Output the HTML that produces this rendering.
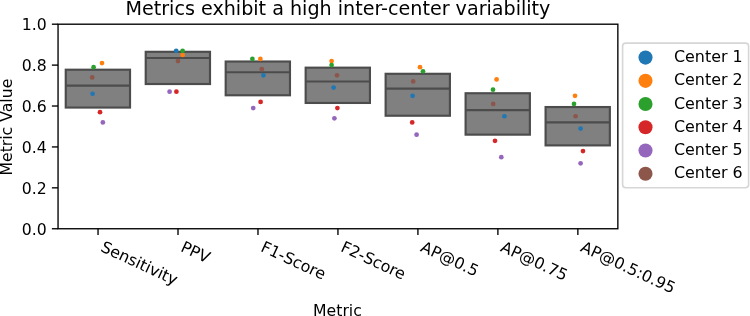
<!DOCTYPE html>
<html lang="en"><head><meta charset="utf-8"><title>Metrics exhibit a high inter-center variability</title>
<style>html,body{margin:0;padding:0;background:#fff}svg{display:block}text{font-family:"DejaVu Sans","Liberation Sans",sans-serif;fill:#000}</style></head><body>
<svg width="750" height="316" viewBox="0 0 750 316">
<rect x="0" y="0" width="750" height="316" fill="#ffffff"/>
<g fill="#808080" stroke="#4c4c4c" stroke-width="2.15" stroke-linejoin="miter">
<rect x="65.75" y="69.71" width="64.28" height="37.84"/>
<rect x="145.72" y="51.81" width="64.28" height="32.22"/>
<rect x="225.69" y="61.53" width="64.28" height="33.75"/>
<rect x="305.66" y="67.67" width="64.28" height="35.28"/>
<rect x="385.63" y="73.80" width="64.28" height="41.93"/>
<rect x="465.60" y="93.24" width="64.28" height="41.42"/>
<rect x="545.58" y="107.04" width="64.28" height="38.35"/>
</g>
<g stroke="#4c4c4c" stroke-width="2.15">
<line x1="65.75" y1="85.56" x2="130.02" y2="85.56"/>
<line x1="145.72" y1="57.95" x2="210.00" y2="57.95"/>
<line x1="225.69" y1="72.27" x2="289.97" y2="72.27"/>
<line x1="305.66" y1="81.47" x2="369.94" y2="81.47"/>
<line x1="385.63" y1="88.63" x2="449.91" y2="88.63"/>
<line x1="465.60" y1="110.11" x2="529.88" y2="110.11"/>
<line x1="545.58" y1="122.38" x2="609.85" y2="122.38"/>
</g>
<g fill="#1f77b4">
<circle cx="92.60" cy="93.75" r="2.37"/>
<circle cx="176.20" cy="50.79" r="2.37"/>
<circle cx="263.40" cy="75.34" r="2.37"/>
<circle cx="333.60" cy="87.61" r="2.37"/>
<circle cx="412.60" cy="95.79" r="2.37"/>
<circle cx="504.40" cy="116.25" r="2.37"/>
<circle cx="580.60" cy="128.52" r="2.37"/>
</g>
<g fill="#ff7f0e">
<circle cx="102.00" cy="63.06" r="2.37"/>
<circle cx="182.60" cy="54.88" r="2.37"/>
<circle cx="260.40" cy="58.97" r="2.37"/>
<circle cx="331.60" cy="61.02" r="2.37"/>
<circle cx="420.00" cy="67.16" r="2.37"/>
<circle cx="496.60" cy="79.43" r="2.37"/>
<circle cx="575.00" cy="95.79" r="2.37"/>
</g>
<g fill="#2ca02c">
<circle cx="93.60" cy="67.16" r="2.37"/>
<circle cx="182.60" cy="50.79" r="2.37"/>
<circle cx="252.40" cy="58.97" r="2.37"/>
<circle cx="331.60" cy="65.11" r="2.37"/>
<circle cx="423.00" cy="71.25" r="2.37"/>
<circle cx="493.00" cy="89.66" r="2.37"/>
<circle cx="574.00" cy="103.97" r="2.37"/>
</g>
<g fill="#d62728">
<circle cx="100.00" cy="112.16" r="2.37"/>
<circle cx="176.40" cy="91.70" r="2.37"/>
<circle cx="260.60" cy="101.93" r="2.37"/>
<circle cx="337.40" cy="108.07" r="2.37"/>
<circle cx="412.20" cy="122.38" r="2.37"/>
<circle cx="495.00" cy="140.79" r="2.37"/>
<circle cx="583.00" cy="151.02" r="2.37"/>
</g>
<g fill="#9467bd">
<circle cx="102.85" cy="122.38" r="2.37"/>
<circle cx="169.60" cy="91.70" r="2.37"/>
<circle cx="253.20" cy="108.07" r="2.37"/>
<circle cx="334.40" cy="118.29" r="2.37"/>
<circle cx="416.60" cy="134.66" r="2.37"/>
<circle cx="501.30" cy="157.16" r="2.37"/>
<circle cx="580.60" cy="163.29" r="2.37"/>
</g>
<g fill="#8c564b">
<circle cx="92.20" cy="77.38" r="2.37"/>
<circle cx="178.00" cy="61.02" r="2.37"/>
<circle cx="261.80" cy="69.20" r="2.37"/>
<circle cx="337.00" cy="75.34" r="2.37"/>
<circle cx="413.20" cy="81.47" r="2.37"/>
<circle cx="493.20" cy="103.97" r="2.37"/>
<circle cx="575.60" cy="116.25" r="2.37"/>
</g>
<rect x="58.05" y="24.20" width="559.80" height="204.55" fill="none" stroke="#000" stroke-width="1.35"/>
<g stroke="#000" stroke-width="1.35">
<line x1="51.88" y1="228.75" x2="58.05" y2="228.75"/>
<line x1="51.88" y1="187.84" x2="58.05" y2="187.84"/>
<line x1="51.88" y1="146.93" x2="58.05" y2="146.93"/>
<line x1="51.88" y1="106.02" x2="58.05" y2="106.02"/>
<line x1="51.88" y1="65.11" x2="58.05" y2="65.11"/>
<line x1="51.88" y1="24.20" x2="58.05" y2="24.20"/>
<line x1="98.04" y1="228.75" x2="98.04" y2="234.93"/>
<line x1="178.01" y1="228.75" x2="178.01" y2="234.93"/>
<line x1="257.98" y1="228.75" x2="257.98" y2="234.93"/>
<line x1="337.95" y1="228.75" x2="337.95" y2="234.93"/>
<line x1="417.92" y1="228.75" x2="417.92" y2="234.93"/>
<line x1="497.89" y1="228.75" x2="497.89" y2="234.93"/>
<line x1="577.86" y1="228.75" x2="577.86" y2="234.93"/>
</g>
<g font-size="15.70" text-anchor="end">
<text x="46.70" y="234.60">0.0</text>
<text x="46.70" y="193.69">0.2</text>
<text x="46.70" y="152.78">0.4</text>
<text x="46.70" y="111.87">0.6</text>
<text x="46.70" y="70.96">0.8</text>
<text x="46.70" y="30.05">1.0</text>
</g>
<g font-size="15.85">
<text transform="translate(99.74,250.70) rotate(25)">Sensitivity</text>
<text transform="translate(179.71,250.70) rotate(25)">PPV</text>
<text transform="translate(259.68,250.70) rotate(25)">F1-Score</text>
<text transform="translate(339.65,250.70) rotate(25)">F2-Score</text>
<text transform="translate(419.62,250.70) rotate(25)">AP@0.5</text>
<text transform="translate(499.59,250.70) rotate(25)">AP@0.75</text>
<text transform="translate(579.56,250.70) rotate(25)">AP@0.5:0.95</text>
</g>
<text x="337.45" y="315.80" font-size="15.70" text-anchor="middle">Metric</text>
<text transform="translate(11.90,127.12) rotate(-90)" font-size="15.70" text-anchor="middle">Metric Value</text>
<text x="337.95" y="14.90" font-size="19.14" text-anchor="middle">Metrics exhibit a high inter-center variability</text>
<rect x="622.6" y="43.1" width="126.0" height="144.7" rx="3.2" ry="3.2" fill="#ffffff" fill-opacity="0.8" stroke="#cccccc" stroke-opacity="0.8" stroke-width="1.58"/>
<circle cx="645.5" cy="57.60" r="7.05" fill="#1f77b4"/>
<text x="674.0" y="62.20" font-size="15.90">Center 1</text>
<circle cx="645.5" cy="80.83" r="7.05" fill="#ff7f0e"/>
<text x="674.0" y="85.43" font-size="15.90">Center 2</text>
<circle cx="645.5" cy="104.06" r="7.05" fill="#2ca02c"/>
<text x="674.0" y="108.66" font-size="15.90">Center 3</text>
<circle cx="645.5" cy="127.29" r="7.05" fill="#d62728"/>
<text x="674.0" y="131.89" font-size="15.90">Center 4</text>
<circle cx="645.5" cy="150.52" r="7.05" fill="#9467bd"/>
<text x="674.0" y="155.12" font-size="15.90">Center 5</text>
<circle cx="645.5" cy="173.75" r="7.05" fill="#8c564b"/>
<text x="674.0" y="178.35" font-size="15.90">Center 6</text>
</svg></body></html>
